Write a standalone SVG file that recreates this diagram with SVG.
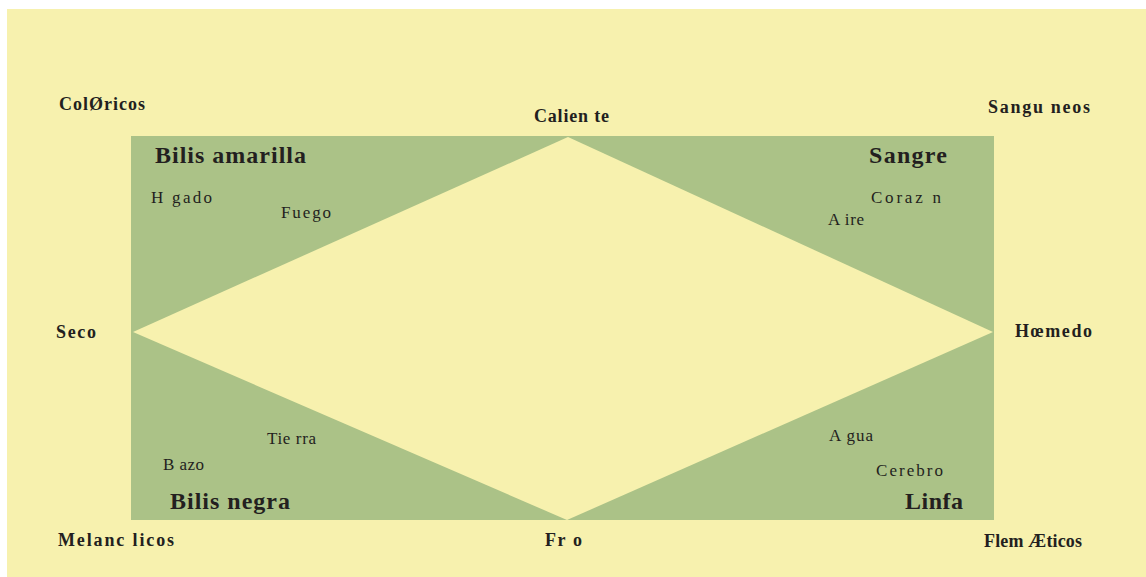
<svg xmlns="http://www.w3.org/2000/svg" width="1146" height="577" viewBox="0 0 1146 577">
<style>
.t{font-family:"Liberation Serif","Times New Roman",serif;fill:#231f20}
.b{font-weight:bold;font-size:18px}
.h{font-weight:bold;font-size:24px}
.n{font-size:17px}
</style>
<rect x="0" y="0" width="1146" height="577" fill="#ffffff"/>
<rect x="7" y="9" width="1139" height="568" fill="#f7f1ae"/>
<g id="quadrant">
<rect x="131" y="136" width="863" height="384" fill="#abc287"/>
<polygon points="568,137 993,332 567,520 133,332" fill="#f7f1ae"/>
</g>
<g id="labels">
<text class="t b" x="59" y="110" textLength="86" lengthAdjust="spacing">ColØricos</text>
<text class="t b" x="534" y="122" textLength="75" lengthAdjust="spacing">Calien te</text>
<text class="t b" x="988" y="113" textLength="102" lengthAdjust="spacing">Sangu neos</text>
<text class="t h" x="155" y="163" textLength="151" lengthAdjust="spacing">Bilis amarilla</text>
<text class="t h" x="869" y="163" textLength="78" lengthAdjust="spacing">Sangre</text>
<text class="t n" x="151" y="203" textLength="61" lengthAdjust="spacing">H gado</text>
<text class="t n" x="281" y="218" textLength="50" lengthAdjust="spacing">Fuego</text>
<text class="t n" x="871" y="203" textLength="70" lengthAdjust="spacing">Coraz n</text>
<text class="t n" x="828" y="225" textLength="36" lengthAdjust="spacing">A ire</text>
<text class="t b" x="56" y="338" textLength="40" lengthAdjust="spacing">Seco</text>
<text class="t b" x="1015" y="337" textLength="77" lengthAdjust="spacing">Hœmedo</text>
<text class="t n" x="267" y="444" textLength="49" lengthAdjust="spacing">Tie rra</text>
<text class="t n" x="163" y="470" textLength="41" lengthAdjust="spacing">B azo</text>
<text class="t h" x="170" y="509" textLength="120" lengthAdjust="spacing">Bilis negra</text>
<text class="t n" x="829" y="441" textLength="44" lengthAdjust="spacing">A gua</text>
<text class="t n" x="876" y="476" textLength="67" lengthAdjust="spacing">Cerebro</text>
<text class="t h" x="905" y="509" textLength="58" lengthAdjust="spacing">Linfa</text>
<text class="t b" x="58" y="546" textLength="116" lengthAdjust="spacing">Melanc licos</text>
<text class="t b" x="545" y="546" textLength="37" lengthAdjust="spacing">Fr o</text>
<text class="t b" x="984" y="547" textLength="98" lengthAdjust="spacing">Flem Æticos</text>
</g>
</svg>
